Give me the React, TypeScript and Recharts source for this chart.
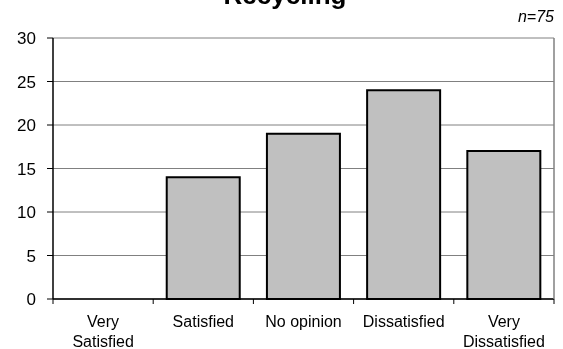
import React from 'react';
import { BarChart, Bar, XAxis, YAxis, CartesianGrid } from 'recharts';

const categories = ['Very\nSatisfied', 'Satisfied', 'No opinion', 'Dissatisfied', 'Very\nDissatisfied'];
const responses = [0, 14, 19, 24, 17];
const yTicks = [0, 5, 10, 15, 20, 25, 30];

const data = categories.map((c, i) => ({ name: c, value: responses[i] }));

const FONT = '"Liberation Sans", Arial, sans-serif';

// Excel-style category tick: label centred, tick marks at band boundaries
function CategoryTick(props: any) {
  const { x, y, payload, index } = props;
  const half = payload?.offset || 50;
  const lines = String(payload.value).split('\n');
  return (
    <g>
      <line x1={x + half} x2={x + half} y1={y} y2={y + 5} stroke="#000" />
      {index === 0 && <line x1={x - half} x2={x - half} y1={y} y2={y + 5} stroke="#000" />}
      <text x={x} y={y + 28} textAnchor="middle" fontSize={16} fill="#000" fontFamily={FONT}>
        {lines.map((l, i) => (
          <tspan key={i} x={x} dy={i === 0 ? 0 : 20}>{l}</tspan>
        ))}
      </text>
    </g>
  );
}

export default function App() {
  return (
    <div style={{ position: 'fixed', left: 0, top: 0, width: 563, height: 349, background: '#fff', fontFamily: FONT }}>
      <div style={{ position: 'absolute', left: 0, width: 570, top: -20, textAlign: 'center', fontSize: 26, fontWeight: 700, lineHeight: '30px' }}>
        Recycling
      </div>
      <div style={{ position: 'absolute', right: 9, top: 7, fontSize: 16, fontStyle: 'italic', lineHeight: '20px' }}>
        n=75
      </div>
      <BarChart
        width={563}
        height={349}
        data={data}
        margin={{ top: 38, right: 0, bottom: 0, left: 0 }}
        barCategoryGap="13.5%"
      >
        <CartesianGrid horizontal vertical={false} stroke="#808080" strokeWidth={1} />
        <XAxis
          dataKey="name"
          height={50}
          axisLine={{ stroke: '#000', strokeWidth: 1.5 }}
          tickLine={false}
          tickSize={0}
          tickMargin={0}
          interval={0}
          tick={<CategoryTick />}
        />
        <YAxis
          domain={[0, 30]}
          ticks={yTicks}
          width={53}
          axisLine={{ stroke: '#000', strokeWidth: 1.5 }}
          tickLine={{ stroke: '#000' }}
          tickSize={6}
          tickMargin={11}
          tick={{ fontSize: 17, fill: '#000', fontFamily: FONT }}
          interval={0}
        />
        <YAxis
          yAxisId="frame"
          orientation="right"
          domain={[0, 30]}
          width={9}
          tick={false}
          tickLine={false}
          axisLine={{ stroke: '#808080', strokeWidth: 1.5 }}
        />
        <Bar dataKey="value" fill="#C0C0C0" stroke="#000" strokeWidth={2} isAnimationActive={false} />
      </BarChart>
    </div>
  );
}
